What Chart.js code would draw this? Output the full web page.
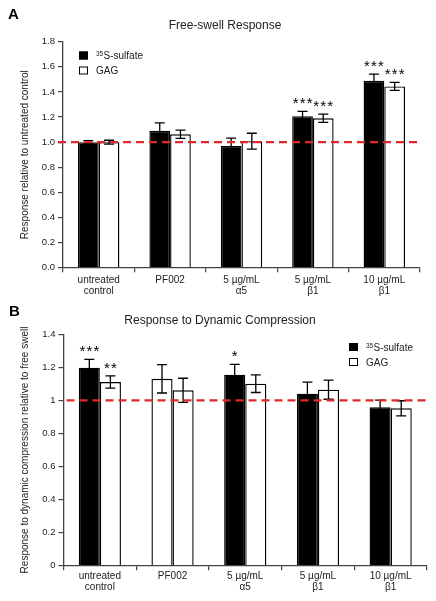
<!DOCTYPE html>
<html><head><meta charset="utf-8">
<script src="https://cdn.jsdelivr.net/npm/chart.js@4"></script>
<style>
html,body{margin:0;padding:0;background:#fff;}
#wrap{position:relative;width:436px;height:601px;overflow:hidden;}
#boxA{position:absolute;left:0;top:0;width:436px;height:300px;}
#boxB{position:absolute;left:0;top:300px;width:436px;height:301px;}
</style></head><body>
<div id="wrap">
  <div id="boxA"><canvas id="cA"></canvas></div>
  <div id="boxB"><canvas id="cB"></canvas></div>
</div>
<script>
// ---------- data ----------
const categories = [['untreated', 'control'], 'PF002', ['5 µg/mL', 'α5'], ['5 µg/mL', 'β1'], ['10 µg/mL', 'β1']];
const seriesNames = ['35S-sulfate', 'GAG'];

const titleA = 'Free-swell Response';
const yTitleA = 'Response relative to untreated control';
const yTickLabelsA = ['0.0', '0.2', '0.4', '0.6', '0.8', '1.0', '1.2', '1.4', '1.6', '1.8'];
const sulfateA = [1.00, 1.09, 0.97, 1.207, 1.488];
const sulfateErrA = [0.012, 0.064, 0.062, 0.038, 0.054];
const gagA = [1.00, 1.063, 1.008, 1.19, 1.444];
const gagErrA = [0.015, 0.033, 0.063, 0.033, 0.032];
const sulfateSigA = ['', '', '', '***', '***'];
const gagSigA = ['', '', '', '***', '***'];

const titleB = 'Response to Dynamic Compression';
const yTitleB = 'Response to dynamic compression relative to free swell';
const yTickLabelsB = ['0', '0.2', '0.4', '0.6', '0.8', '1', '1.2', '1.4'];
const sulfateB = [1.198, 1.131, 1.156, 1.041, 0.958];
const sulfateErrB = [0.05, 0.086, 0.062, 0.07, 0.044];
const gagB = [1.111, 1.061, 1.101, 1.065, 0.952];
const gagErrB = [0.037, 0.073, 0.053, 0.058, 0.046];
const sulfateSigB = ['***', '', '*', '', ''];
const gagSigB = ['**', '', '', '', ''];
const sulfateFillB = ['#000', '#fff', '#000', '#000', '#000'];

const referenceLine = 1.0;

// ---------- drawing ----------
const FONT = '"Liberation Sans", Arial, Helvetica, sans-serif';
Chart.defaults.font.family = FONT;
Chart.defaults.color = '#222';

const overlay = {
  id: 'overlay',
  afterDatasetsDraw(chart, args, o) {
    const ctx = chart.ctx, ys = chart.scales.y, ca = chart.chartArea;
    ctx.save();
    o.errors.forEach((errs, di) => {
      const meta = chart.getDatasetMeta(di);
      const vals = chart.data.datasets[di].data;
      meta.data.forEach((bar, i) => {
        const yt = ys.getPixelForValue(vals[i] + errs[i]);
        const yb = ys.getPixelForValue(vals[i] - errs[i]);
        ctx.strokeStyle = '#000';
        ctx.lineWidth = 1.3;
        ctx.beginPath();
        ctx.moveTo(bar.x, yt); ctx.lineTo(bar.x, yb);
        ctx.moveTo(bar.x - 5, yt); ctx.lineTo(bar.x + 5, yt);
        ctx.moveTo(bar.x - 5, yb); ctx.lineTo(bar.x + 5, yb);
        ctx.stroke();
        const s = o.sig[di][i];
        if (s) {
          ctx.fillStyle = '#000';
          ctx.font = '15px ' + FONT;
          ctx.textAlign = 'center';
          ctx.textBaseline = 'alphabetic';
          const step = 7;
          const x0 = bar.x - (s.length - 1) * step / 2;
          for (let k = 0; k < s.length; k++) ctx.fillText(s[k], x0 + k * step, yt - 3);
        }
      });
    });
    // red dashed reference line
    const yr = ys.getPixelForValue(referenceLine);
    ctx.strokeStyle = '#e02a2a';
    ctx.lineWidth = 2.3;
    ctx.setLineDash([8, 5]);
    ctx.beginPath();
    ctx.moveTo(ca.left + o.lineStart, yr);
    ctx.lineTo(ca.right, yr);
    ctx.stroke();
    ctx.setLineDash([]);
    ctx.restore();
  },
  afterDraw(chart, args, o) {
    const ctx = chart.ctx;
    ctx.save();
    // panel letter
    ctx.fillStyle = '#000';
    ctx.font = 'bold 15px ' + FONT;
    ctx.textAlign = 'left';
    ctx.textBaseline = 'alphabetic';
    ctx.fillText(o.letter, o.letterX, o.letterY);
    // title
    ctx.font = '12px ' + FONT;
    ctx.textAlign = 'center';
    ctx.textBaseline = 'middle';
    ctx.fillStyle = '#222';
    ctx.fillText(o.title, o.titleX, o.titleY);
    // legend
    seriesNames.forEach((name, i) => {
      const cy = o.legY + i * 15;
      ctx.fillStyle = i === 0 ? '#000' : '#fff';
      ctx.fillRect(o.legX, cy - 4, 9, 8);
      ctx.strokeStyle = '#000';
      ctx.lineWidth = 1;
      ctx.strokeRect(o.legX + 0.5, cy - 3.5, 8, 7);
      const m = name.match(/^(\d+)(.*)$/);
      let tx = o.legX + 17;
      const base = cy + 3.6;
      ctx.fillStyle = '#222';
      ctx.textAlign = 'left';
      ctx.textBaseline = 'alphabetic';
      if (m) {
        ctx.font = '6.5px ' + FONT;
        ctx.fillText(m[1], tx, base - 2.8);
        tx += ctx.measureText(m[1]).width + 0.3;
        ctx.font = '10px ' + FONT;
        ctx.fillText(m[2], tx, base);
      } else {
        ctx.font = '10px ' + FONT;
        ctx.fillText(name, tx, base);
      }
    });
    ctx.restore();
  }
};

function makeChart(id, cfg) {
  return new Chart(document.getElementById(id), {
    type: 'bar',
    data: {
      labels: categories,
      datasets: [
        { label: seriesNames[0], data: cfg.s1, backgroundColor: cfg.fill1, borderColor: '#000', borderWidth: 1.4,
          categoryPercentage: 0.58, barPercentage: 1.0 },
        { label: seriesNames[1], data: cfg.s2, backgroundColor: '#fff', borderColor: '#000', borderWidth: 1.4,
          categoryPercentage: 0.58, barPercentage: 1.0 }
      ]
    },
    options: {
      responsive: true,
      maintainAspectRatio: false,
      animation: false,
      layout: { padding: { top: cfg.padTop, right: cfg.padRight, left: 0, bottom: 0 } },
      plugins: {
        legend: { display: false },
        tooltip: { enabled: false },
        title: { display: false },
        overlay: {
          errors: [cfg.e1, cfg.e2], sig: [cfg.g1, cfg.g2],
          lineStart: cfg.lineStart,
          letter: cfg.letter, letterX: cfg.letterX, letterY: cfg.letterY,
          title: cfg.title, titleX: cfg.titleX, titleY: cfg.titleY,
          legX: cfg.legX, legY: cfg.legY
        }
      },
      scales: {
        x: {
          grid: { display: true, drawOnChartArea: false, drawTicks: true, tickLength: 4.5, color: '#444', lineWidth: 1.2, offset: true },
          border: { display: true, color: '#444', width: 1.3 },
          ticks: { font: { size: 10, lineHeight: 1.1 }, color: '#222', padding: cfg.xPad, maxRotation: 0, autoSkip: false },
          afterFit: (s) => { s.height = cfg.xHeight; }
        },
        y: {
          min: 0, max: cfg.yMax,
          grid: { display: true, drawOnChartArea: false, drawTicks: true, tickLength: 5, color: '#444', lineWidth: 1.2 },
          border: { display: true, color: '#444', width: 1.3 },
          ticks: { stepSize: 0.2, font: { size: 9.5 }, color: '#222', padding: 3,
                   callback: (v, i) => cfg.tickLabels[i] },
          title: { display: true, text: cfg.yTitle, font: { size: 10 }, color: '#222', padding: { top: 19, bottom: 0 } },
          afterFit: (s) => { s.width = cfg.yWidth; }
        }
      }
    },
    plugins: [overlay]
  });
}

makeChart('cA', {
  s1: sulfateA, s2: gagA, e1: sulfateErrA, e2: gagErrA, g1: sulfateSigA, g2: gagSigA, fill1: '#000',
  padTop: 41.7, padRight: 16, xHeight: 32.3, yWidth: 63, xPad: 2.5, yMax: 1.8,
  tickLabels: yTickLabelsA, yTitle: yTitleA, lineStart: -5,
  letter: 'A', letterX: 8, letterY: 19, title: titleA, titleX: 225, titleY: 26,
  legX: 79, legY: 55.5
});
makeChart('cB', {
  s1: sulfateB, s2: gagB, e1: sulfateErrB, e2: gagErrB, g1: sulfateSigB, g2: gagSigB, fill1: sulfateFillB,
  padTop: 34.3, padRight: 9, xHeight: 35.3, yWidth: 63.5, xPad: 0.5, yMax: 1.4,
  tickLabels: yTickLabelsB, yTitle: yTitleB, lineStart: 3,
  letter: 'B', letterX: 9, letterY: 16, title: titleB, titleX: 220, titleY: 20.7,
  legX: 349, legY: 47
});
</script>
</body></html>
